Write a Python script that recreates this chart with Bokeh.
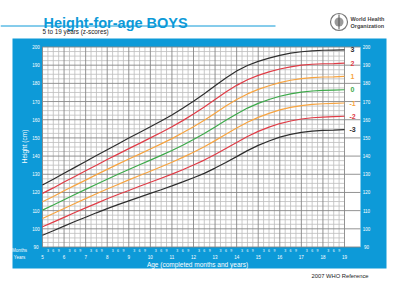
from bokeh.plotting import figure
from bokeh.models import Range1d
from bokeh.embed import file_html
from bokeh.resources import INLINE
from bokeh.core.properties import value
import math

# ---------------- data (WHO 2007 height-for-age, boys 5-19 y) ----------------
ages = [5.0, 5.5, 6.0, 6.5, 7.0, 7.5, 8.0, 8.5, 9.0, 9.5, 10.0, 10.5, 11.0, 11.5,
        12.0, 12.5, 13.0, 13.5, 14.0, 14.5, 15.0, 15.5, 16.0, 16.5, 17.0, 17.5,
        18.0, 18.5, 19.0]
sd_m3 = [96.5, 98.9, 101.5, 104.0, 106.4, 108.8, 111.1, 113.3, 115.4, 117.4, 119.5,
         121.5, 123.6, 125.8, 128.1, 130.5, 133.4, 136.5, 139.7, 143.0, 145.9, 148.3,
         150.4, 151.9, 153.0, 153.7, 154.1, 154.3, 154.6]
sd_m2 = [101.1, 103.7, 106.3, 109.0, 111.5, 114.0, 116.5, 118.9, 121.1, 123.4, 125.6,
         127.8, 130.1, 132.5, 135.1, 137.8, 140.9, 144.2, 147.5, 150.8, 153.6, 155.9,
         157.9, 159.3, 160.4, 161.1, 161.4, 161.7, 161.9]
sd_m1 = [105.7, 108.4, 111.2, 113.9, 116.6, 119.3, 121.9, 124.4, 126.9, 129.3, 131.7,
         134.1, 136.6, 139.3, 142.1, 145.1, 148.5, 152.0, 155.4, 158.6, 161.3, 163.5,
         165.4, 166.8, 167.8, 168.4, 168.8, 169.0, 169.2]
sd_0 = [110.3, 113.1, 116.0, 118.9, 121.7, 124.5, 127.3, 130.0, 132.6, 135.2, 137.8,
        140.4, 143.1, 146.0, 149.1, 152.4, 156.0, 159.7, 163.2, 166.4, 169.0, 171.1,
        172.9, 174.2, 175.2, 175.8, 176.1, 176.3, 176.5]
sd_p1 = [114.9, 117.8, 120.9, 123.9, 126.8, 129.8, 132.7, 135.6, 138.4, 141.1, 143.9,
         146.7, 149.6, 152.8, 156.1, 159.7, 163.6, 167.5, 171.1, 174.2, 176.7, 178.7,
         180.4, 181.7, 182.6, 183.2, 183.5, 183.6, 183.8]
sd_p2 = [119.5, 122.5, 125.7, 128.8, 131.9, 135.0, 138.1, 141.1, 144.1, 147.0, 150.0,
         153.0, 156.1, 159.5, 163.1, 167.0, 171.1, 175.2, 178.9, 182.0, 184.4, 186.3,
         187.9, 189.1, 190.0, 190.5, 190.8, 190.9, 191.1]
sd_p3 = [124.1, 127.3, 130.6, 133.8, 137.0, 140.3, 143.5, 146.7, 149.9, 153.0, 156.1,
         159.3, 162.6, 166.3, 170.1, 174.3, 178.7, 183.0, 186.8, 189.8, 192.1, 193.9,
         195.4, 196.6, 197.4, 197.9, 198.2, 198.3, 198.4]

z_labels = ["3", "2", "1", "0", "-1", "-2", "-3"]
year_ticks = list(range(5, 20))
month_ticks = [3, 6, 9]
height_ticks = list(range(90, 201, 10))

# ---------------- colours ----------------
BLUE = "#0d9ad8"
C_BLACK = "#2e2e2e"
C_RED = "#e03c46"
C_ORANGE = "#f7a440"
C_GREEN = "#3daa4a"
FONT = value("Liberation Sans")

# ---------------- pixel <-> data mapping ----------------
W, H = 400, 281
KX = (344 - 42) / 14.0          # px per year
KY = (246.5 - 46.5) / 110.0     # px per cm


def dx(px):
    return 5 + (px - 42) / KX


def dy(py):
    return 90 + (246.5 - py) / KY


p = figure(width=W, height=H, output_backend="svg", toolbar_location=None,
           x_range=Range1d(dx(0), dx(W)), y_range=Range1d(dy(H), dy(0)),
           min_border=0, min_border_left=0, min_border_right=0,
           min_border_top=0, min_border_bottom=0)
p.axis.visible = False
p.grid.visible = False
p.outline_line_color = None
p.background_fill_color = "white"
p.border_fill_color = "white"

# blue panel and white chart area
p.quad(left=[dx(12)], right=[dx(386)], top=[dy(38)], bottom=[dy(268)],
       fill_color=BLUE, line_color=None)
p.quad(left=[year_ticks[0]], right=[dx(360)], top=[height_ticks[-1]],
       bottom=[height_ticks[0]], fill_color="white", line_color=None)

# grid
x_min, x_max = year_ticks[0], year_ticks[-1]
y_min, y_max = height_ticks[0], height_ticks[-1]
minor_x = [y + m / 12 for y in year_ticks[:-1] for m in month_ticks]
p.segment(x0=minor_x, x1=minor_x, y0=[y_min] * len(minor_x), y1=[y_max] * len(minor_x),
          line_color="#bdbdbd", line_width=0.8)
minor_y = [y_min + 2.5 * i for i in range(int((y_max - y_min) / 2.5) + 1)]
minor_y = [v for v in minor_y if v % 10 != 0]
p.segment(x0=[x_min] * len(minor_y), x1=[x_max] * len(minor_y), y0=minor_y, y1=minor_y,
          line_color="#bdbdbd", line_width=0.8)
p.segment(x0=year_ticks, x1=year_ticks, y0=[y_min] * len(year_ticks),
          y1=[y_max] * len(year_ticks), line_color="#878787", line_width=0.9)
p.segment(x0=[x_min] * len(height_ticks), x1=[dx(360)] * len(height_ticks),
          y0=height_ticks, y1=height_ticks, line_color="#878787", line_width=0.9)

# z-score curves
series = [sd_p3, sd_p2, sd_p1, sd_0, sd_m1, sd_m2, sd_m3]
colors = [C_BLACK, C_RED, C_ORANGE, C_GREEN, C_ORANGE, C_RED, C_BLACK]
for s, c in zip(series, colors):
    p.line(ages, s, line_color=c, line_width=1.2)

p.text(x=[dx(352)] * len(series), y=[s[-1] for s in series], text=z_labels,
       text_color=colors, text_font=FONT, text_font_size=value("7px"),
       text_font_style="bold", text_align="center", text_baseline="middle")

# axis tick labels
p.text(x=[dx(35.5)] * len(height_ticks), y=height_ticks, text=[str(v) for v in height_ticks],
       text_color="white", text_font=FONT, text_font_size=value("4.5px"),
       text_align="center", text_baseline="middle")
p.text(x=[dx(366)] * len(height_ticks), y=height_ticks, text=[str(v) for v in height_ticks],
       text_color="white", text_font=FONT, text_font_size=value("4.5px"),
       text_align="center", text_baseline="middle")
p.text(x=year_ticks, y=[dy(256.5)] * len(year_ticks), text=[str(v) for v in year_ticks],
       text_color="white", text_font=FONT, text_font_size=value("4.5px"),
       text_align="center", text_baseline="middle")
month_labels = [str(m) for y in year_ticks[:-1] for m in month_ticks]
p.text(x=minor_x, y=[dy(250)] * len(minor_x), text=month_labels,
       text_color="white", text_font=FONT, text_font_size=value("3.5px"),
       text_align="center", text_baseline="middle")
p.text(x=[dx(19), dx(19)], y=[dy(249.5), dy(256.5)], text=["Months", "Years"],
       text_color="white", text_font=FONT, text_font_size=value("4.5px"),
       text_align="center", text_baseline="middle")

# axis titles
p.text(x=[dx(197)], y=[dy(263.5)], text=["Age (completed months and years)"],
       text_color="white", text_font=FONT, text_font_size=value("6.5px"),
       text_align="center", text_baseline="middle")
p.text(x=[dx(24)], y=[dy(146)], text=["Height (cm)"], angle=math.pi / 2,
       text_color="white", text_font=FONT, text_font_size=value("6.5px"),
       text_align="center", text_baseline="middle")

# header
p.text(x=[dx(43)], y=[dy(22)], text=["Height-for-age  BOYS"], text_color=BLUE,
       text_font=FONT, text_font_size=value("14.5px"), text_font_style="bold",
       text_align="left", text_baseline="alphabetic")
p.segment(x0=[dx(0)], x1=[dx(275)], y0=[dy(25.5)], y1=[dy(25.5)], line_color=BLUE,
          line_width=1)
p.text(x=[dx(42)], y=[dy(31)], text=["5 to 19 years (z-scores)"], text_color="#222222",
       text_font=FONT, text_font_size=value("6.3px"), text_align="left",
       text_baseline="middle")

# WHO logo
p.ellipse(x=[dx(338.5)], y=[dy(21.5)], width=[17 / KX], height=[17 / KY],
          fill_color="white", line_color="#777777", line_width=1.2)
p.ellipse(x=[dx(338.5)], y=[dy(21.5)], width=[9 / KX], height=[9 / KY],
          fill_color="#9a9a9a", line_color=None)
p.segment(x0=[dx(338.5)], x1=[dx(338.5)], y0=[dy(14)], y1=[dy(29)],
          line_color="#555555", line_width=1)
p.text(x=[dx(350), dx(350)], y=[dy(18), dy(25)], text=["World Health", "Organization"],
       text_color="#444444", text_font=FONT, text_font_size=value("5.5px"),
       text_font_style="bold", text_align="left", text_baseline="middle")

# footer
p.text(x=[dx(368)], y=[dy(275)], text=["2007 WHO Reference"], text_color="#222222",
       text_font=FONT, text_font_size=value("5.8px"), text_align="right",
       text_baseline="middle")

open("out.html", "w").write(file_html(p, INLINE))
